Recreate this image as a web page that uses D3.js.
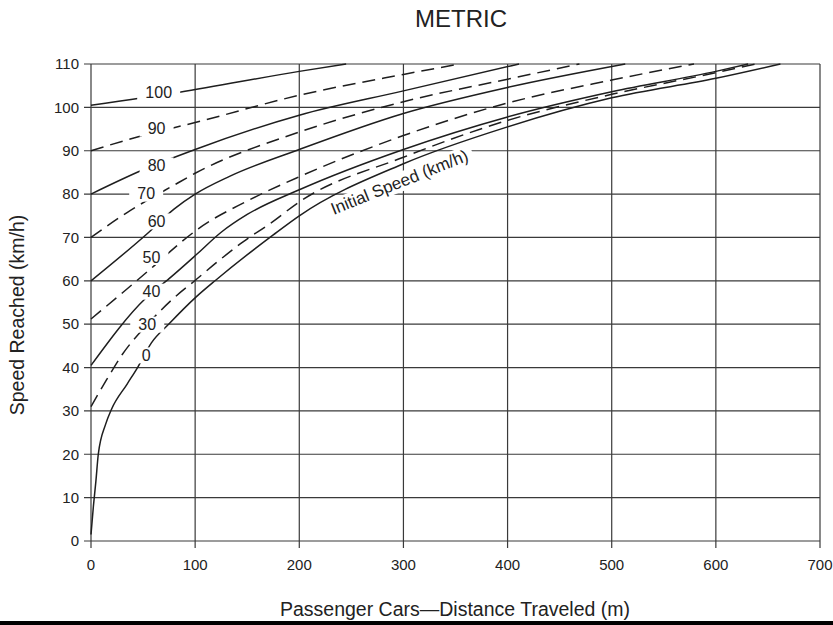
<!DOCTYPE html>
<html>
<head>
<meta charset="utf-8">
<script src="https://cdn.jsdelivr.net/npm/d3@7"></script>
<style>
   body { margin: 0; background: #fff; }
   text { font-family: "Liberation Sans", Arial, sans-serif; fill: #222; }
</style>
</head>
<body>
<div id="chart"></div>
<script>
//axis ticks
var xTicks = [0, 100, 200, 300, 400, 500, 600, 700];
var yTicks = [0, 10, 20, 30, 40, 50, 60, 70, 80, 90, 100, 110];

//initial speeds, one curve each (distance m, speed km/h)
var initialSpeeds = ['100', '90', '80', '70', '60', '50', '40', '30', '0'];
var curveDashed = [false, true, false, true, false, true, false, true, false];

var speed100 = [[0, 100.5], [85, 103.5], [200, 108.3], [245, 110]];
var speed90 = [[0, 90], [48, 93.4], [100, 96.5], [200, 102.8], [300, 107.6], [354, 110]];
var speed80 = [[0, 80], [50, 85.6], [100, 90.3], [200, 98.2], [300, 103.8], [411, 110]];
var speed70 = [[0, 70], [35, 75.8], [80, 82.1], [100, 84.8], [200, 94.3], [300, 101.3], [400, 106.5], [469, 110]];
var speed60 = [[0, 60], [55, 71.1], [80, 76.6], [100, 80], [133, 84.1], [200, 90.3], [300, 98.6], [400, 104.6], [513, 110]];
var speed50 = [[0, 51.2], [30, 57.2], [56, 62.5], [88, 69.2], [103, 72], [150, 78.4], [200, 84], [300, 93.5], [400, 101], [500, 106.3], [579, 110]];
var speed40 = [[0, 40.5], [53, 56.1], [75, 60.5], [101, 66], [125, 71.2], [150, 75.3], [200, 81], [300, 90.3], [400, 97.8], [500, 103.6], [600, 108.3], [631, 110]];
var speed30 = [[0, 31], [15, 37.2], [30, 43], [54, 49.9], [78, 55.7], [101, 60.3], [122, 64.5], [146, 69], [172, 73.2], [200, 78.2], [300, 88.5], [400, 97], [500, 103], [600, 108], [638, 110]];
var speed0 = [[0, 1.5], [2.3, 8], [4.7, 13.8], [7, 20], [14, 26.9], [19.7, 30.4], [34.7, 36.2], [44.7, 40], [58, 45.7], [75, 50.1], [101, 56.3], [120, 60.2], [175, 70.6], [200, 75], [300, 87], [400, 95.5], [500, 102.2], [600, 106.7], [662, 110]];

var curves = [speed100, speed90, speed80, speed70, speed60, speed50, speed40, speed30, speed0];

//where each curve carries its label (distance, speed)
var labelAt = [[65, 103.5], [63, 95.1], [63, 86.6], [53, 80.1], [63, 73.7], [58, 65.5], [58, 57.5], [54, 49.9], [53, 42.8]];

var width = 833, height = 625;

var svg = d3.select('#chart').append('svg')
   .attr('width', width)
   .attr('height', height);

var x = d3.scaleLinear().domain([0, 700]).range([91, 820]);
var y = d3.scaleLinear().domain([0, 110]).range([541, 64]);

var gridColor = '#3a3a3a';

//horizontal grid lines + left ticks
svg.append('g').selectAll('line')
   .data(yTicks)
   .enter()
   .append('line')
   .attr('x1', x(0) - 7)
   .attr('x2', x(700))
   .attr('y1', function (d) { return y(d); })
   .attr('y2', function (d) { return y(d); })
   .attr('stroke', gridColor)
   .attr('stroke-width', 1.2);

//vertical grid lines + bottom ticks
svg.append('g').selectAll('line')
   .data(xTicks)
   .enter()
   .append('line')
   .attr('x1', function (d) { return x(d); })
   .attr('x2', function (d) { return x(d); })
   .attr('y1', y(110))
   .attr('y2', y(0) + 7)
   .attr('stroke', gridColor)
   .attr('stroke-width', 1.2);

//tick labels
svg.append('g').selectAll('text')
   .data(yTicks)
   .enter()
   .append('text')
   .attr('x', x(0) - 12)
   .attr('y', function (d) { return y(d); })
   .attr('dy', '0.35em')
   .attr('text-anchor', 'end')
   .attr('font-size', '15px')
   .text(function (d) { return d; });

svg.append('g').selectAll('text')
   .data(xTicks)
   .enter()
   .append('text')
   .attr('x', function (d) { return x(d); })
   .attr('y', y(0) + 29)
   .attr('text-anchor', 'middle')
   .attr('font-size', '15px')
   .text(function (d) { return d; });

//speed curves
var line = d3.line()
   .x(function (d) { return x(d[0]); })
   .y(function (d) { return y(d[1]); })
   .curve(d3.curveMonotoneX);

svg.append('g').selectAll('path')
   .data(curves)
   .enter()
   .append('path')
   .attr('d', line)
   .attr('fill', 'none')
   .attr('stroke', '#1e1e1e')
   .attr('stroke-width', 1.5)
   .attr('stroke-dasharray', function (d, i) { return curveDashed[i] ? '13,7' : null; });

//curve labels, each on a white patch that breaks the lines under it
var labels = svg.append('g').selectAll('g')
   .data(initialSpeeds)
   .enter()
   .append('g')
   .attr('transform', function (d, i) {
      return 'translate(' + x(labelAt[i][0]) + ',' + y(labelAt[i][1]) + ')';
   });

labels.append('rect')
   .attr('x', function (d) { return -d.length * 4.5 - 8; })
   .attr('y', -8)
   .attr('width', function (d) { return d.length * 9 + 16; })
   .attr('height', 16)
   .attr('fill', '#fff');

labels.append('text')
   .attr('text-anchor', 'middle')
   .attr('dy', '0.36em')
   .attr('font-size', '16px')
   .text(function (d) { return d; });

//"Initial Speed" note along the curves
var note = svg.append('g')
   .attr('transform', 'translate(' + x(233) + ',' + y(75.2) + ') rotate(-22)');
note.append('rect')
   .attr('x', -4).attr('y', -15)
   .attr('width', 156).attr('height', 19)
   .attr('fill', '#fff');
note.append('text')
   .attr('font-size', '17px')
   .text('Initial Speed (km/h)');

//titles
svg.append('text')
   .attr('x', 461).attr('y', 27)
   .attr('text-anchor', 'middle')
   .attr('font-size', '24px')
   .text('METRIC');

svg.append('text')
   .attr('x', 455).attr('y', 616)
   .attr('text-anchor', 'middle')
   .attr('font-size', '19.5px')
   .text('Passenger Cars\u2014Distance Traveled (m)');

svg.append('text')
   .attr('transform', 'translate(24,' + 315 + ') rotate(-90)')
   .attr('text-anchor', 'middle')
   .attr('font-size', '19.5px')
   .text('Speed Reached (km/h)');

//page edge bar
svg.append('rect')
   .attr('x', 0).attr('y', 621)
   .attr('width', width).attr('height', 4)
   .attr('fill', '#000');
</script>
</body>
</html>
